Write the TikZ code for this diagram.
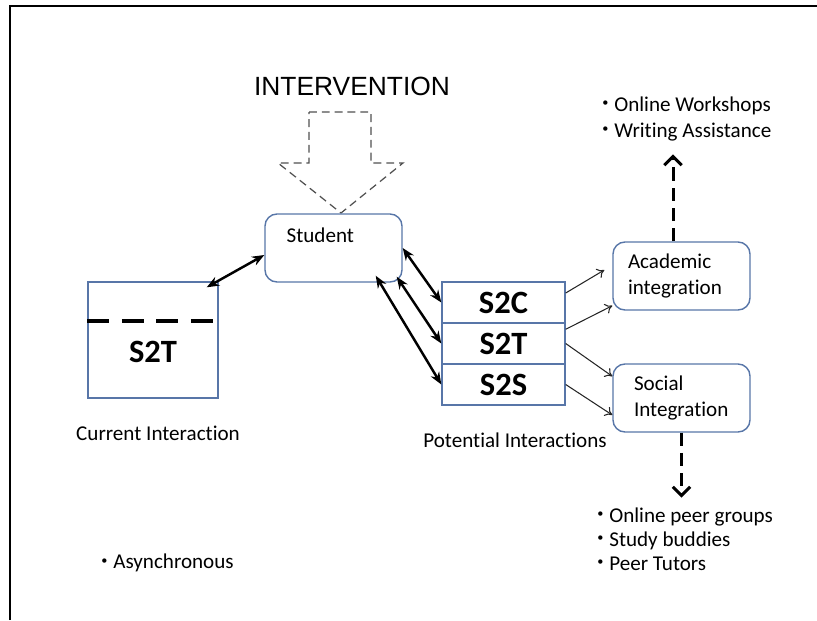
\documentclass[tikz,border=0pt]{standalone}
\usepackage{fontspec}
\setmainfont[Ligatures=NoCommon]{Carlito}
\newfontfamily\headfont{Liberation Sans}
\usetikzlibrary{arrows.meta}
\usetikzlibrary{positioning}
\usetikzlibrary{calc}
\definecolor{boxblue}{RGB}{88,118,168}
\definecolor{dashgray}{RGB}{80,80,80}
\newcommand{\bul}{\makebox[0.24cm][l]{\raisebox{0.45ex}{\scriptsize\textbullet}}}

\begin{document}
\begin{tikzpicture}[
font = \fontsize{12}{14.5}\selectfont,
box/.style = {draw=boxblue, line width=0.8pt, rounded corners=0.24cm,
            minimum width=2.74cm, minimum height=1.36cm},
cell/.style = {draw=boxblue, line width=0.8pt, minimum width=2.46cm,
            minimum height=0.82cm, font=\fontsize{18.5}{20}\selectfont\bfseries},
link/.style = {{Stealth[length=7pt,width=5.5pt]}-{Stealth[length=7pt,width=5.5pt]},
            line width=1.4pt},
feed/.style = {-{To[length=4pt,width=6pt]}, line width=0.6pt, black!85},
hint/.style = {-{Straight Barb[length=5pt,width=10pt]}, line width=1.7pt,
            dash pattern=on 7.5pt off 4pt}
                ]
    \useasboundingbox (0,0) rectangle (16.34,12.4);
    \draw[line width=1.2pt] (0.2,0) -- (0.2,12.28) -- (16.34,12.28);

    % intervention arrow
    \node[font=\headfont\fontsize{15}{18}\selectfont] (interv) at (7.04,10.68) {INTERVENTION};
    \draw[dashgray, line width=0.7pt, dash pattern=on 4.5pt off 2.8pt]
        (6.18,10.16) -- (7.42,10.16) -- (7.42,9.14) -- (8.06,9.14) -- (6.82,8.14)
        -- (5.56,9.14) -- (6.18,9.14) -- cycle;

    % student
    \node[box] (student) at (6.67,7.44) {};
    \node[anchor=base west, inner sep=0pt] (studentlbl) at ($(student.north west)+(0.44,-0.58)$) {Student};

    % current interaction
    \node[draw=boxblue, line width=0.8pt, minimum width=2.6cm, minimum height=2.32cm] (current) at (3.06,5.6) {};
    \draw[line width=2.3pt, dash pattern=on 0.44cm off 0.25cm]
        ($(current.north west)+(0,-0.8)$) -- ($(current.north east)+(0,-0.8)$);
    \node[font=\fontsize{18.5}{20}\selectfont\bfseries] (curlbl) at (3.06,5.36) {S2T};
    \node (curcap) at (3.16,3.74) {Current Interaction};

    % potential interactions
    \foreach \y/\n/\t in {6.35/s2c/S2C, 5.53/s2t/S2T, 4.71/s2s/S2S}
        \node[cell] (\n) at (10.07,\y) {\t};
    \node (potcap) at (10.3,3.6) {Potential Interactions};

    % integration
    \node[box, align=left, text width=2.14cm, inner xsep=0.3cm] (acad) at (13.63,6.88) {Academic\\integration};
    \node[box, align=left, text width=1.9cm, inner xsep=0.42cm] (soc) at (13.63,4.44) {Social\\Integration};

    \node[anchor=west, align=left, inner sep=0pt, font=\fontsize{12}{14.8}\selectfont] (acadlist) at (12.04,10.02)
        {\bul Online Workshops\\\bul Writing Assistance};
    \node[anchor=west, align=left, inner sep=0pt, font=\fontsize{12}{13.7}\selectfont] (soclist) at (11.94,1.62)
        {\bul Online peer groups\\\bul Study buddies\\\bul Peer Tutors};
    \node[anchor=west, inner sep=0pt] (async) at (2.02,1.14) {\bul Asynchronous};

    \draw[link] ($(student.west)+(0,-0.14)$) -- ($(current.north east)+(-0.24,-0.12)$);
    \draw[link] (student.east) -- (s2c.west);
    \draw[link] ($(student.south east)+(-0.12,0.12)$) -- (s2t.west);
    \draw[link] ($(student.south east)+(-0.54,0.14)$) -- (s2s.west);

    \draw[feed] ($(s2c.east)+(0,0.19)$) -- ($(acad.west)+(-0.16,0.12)$);
    \draw[feed] ($(s2t.north east)+(0,-0.14)$) -- ($(acad.south west)+(0,0.1)$);
    \draw[feed] (s2t.east) -- ($(soc.north west)+(0,-0.26)$);
    \draw[feed] (s2s.east) -- ($(soc.west)+(0,-0.34)$);

    \draw[hint] ($(acad.north)+(-0.17,0)$) -- ++(0,1.74);
    \draw[hint] (soc.south) -- ++(0,-1.3);
\end{tikzpicture}
\end{document}
